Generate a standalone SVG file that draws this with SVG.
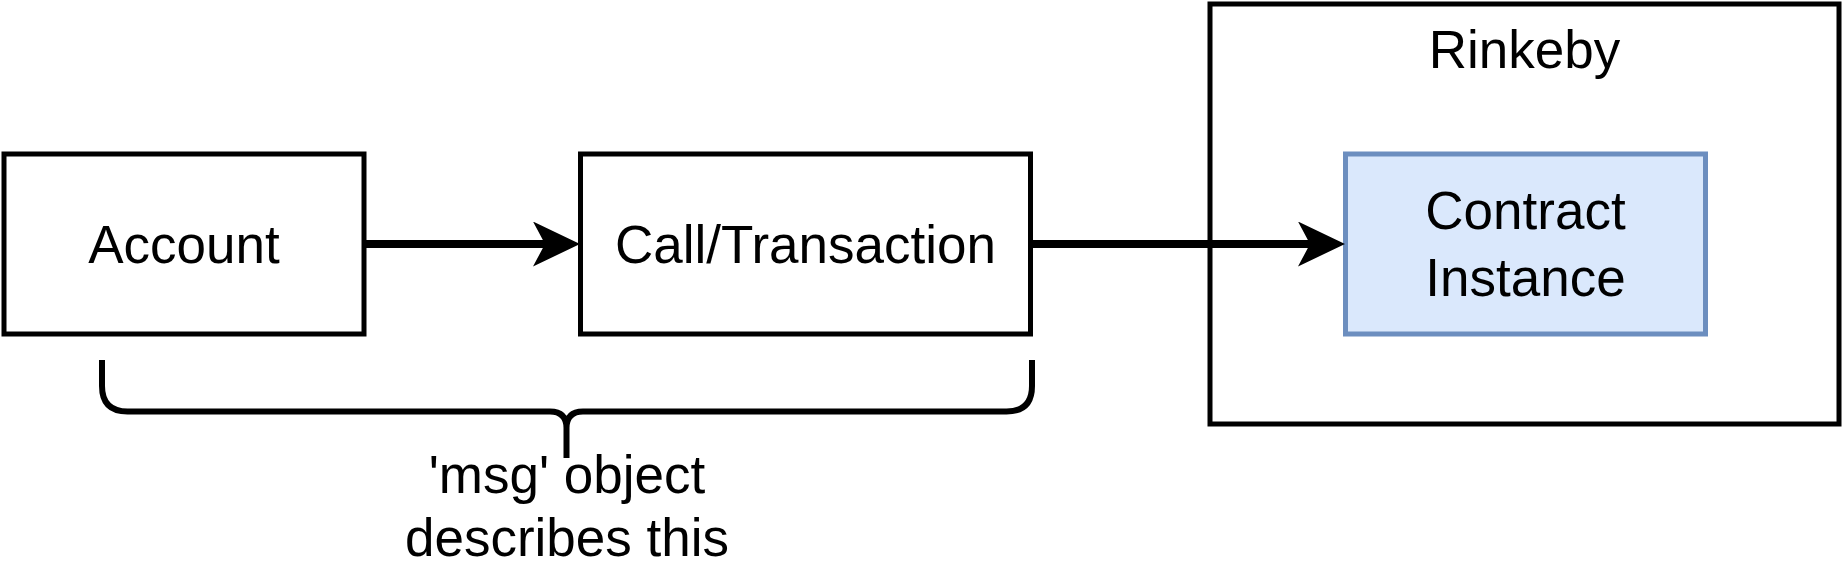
<svg xmlns="http://www.w3.org/2000/svg" width="1842" height="573" viewBox="0 0 1842 573">
  <style>
    .box { fill: #ffffff; stroke: #000000; stroke-width: 5; }
    .blue { fill: #dae8fc; stroke: #6c8ebf; stroke-width: 5; }
    .lbl { font-family: "Liberation Sans", Arial, sans-serif; font-size: 53px; fill: #000000; text-anchor: middle; }
    .edge { fill: none; stroke: #000000; stroke-width: 8; }
    .brace { fill: none; stroke: #000000; stroke-width: 6; }
  </style>
  <defs>
    <marker id="arrow" markerUnits="userSpaceOnUse" markerWidth="48" markerHeight="46" refX="15" refY="22.5" orient="auto">
      <path d="M0,0 L47,22.5 L0,45 L12,22.5 Z" fill="#000000"/>
    </marker>
  </defs>
  <rect width="1842" height="573" fill="#ffffff"/>
  <g id="rinkeby">
    <rect class="box" x="1210" y="4" width="629" height="420"/>
    <text class="lbl" x="1524.5" y="68">Rinkeby</text>
  </g>
  <g id="account">
    <rect class="box" x="4" y="154" width="360" height="180"/>
    <text class="lbl" x="184" y="263">Account</text>
  </g>
  <g id="call">
    <rect class="box" x="580.5" y="154" width="450" height="180"/>
    <text class="lbl" x="805.5" y="263">Call/Transaction</text>
  </g>
  <g id="contract">
    <rect class="blue" x="1345.5" y="154" width="360" height="180"/>
    <text class="lbl" x="1525.5" y="229">Contract</text>
    <text class="lbl" x="1525.5" y="296">Instance</text>
  </g>
  <g id="connectors">
    <line class="edge" x1="364" y1="244" x2="548" y2="244" marker-end="url(#arrow)"/>
    <line class="edge" x1="1030.5" y1="244" x2="1313" y2="244" marker-end="url(#arrow)"/>
  </g>
  <g id="msg-brace">
    <path class="brace" d="M102,360 V386 Q102,411.5 127.5,411.5 H550 Q566.5,411.5 566.5,428 V458 M566.5,428 Q566.5,411.5 583,411.5 H1006.5 Q1032,411.5 1032,386 V360"/>
    <text class="lbl" x="567" y="493">'msg' object</text>
    <text class="lbl" x="567" y="556">describes this</text>
  </g>
</svg>
